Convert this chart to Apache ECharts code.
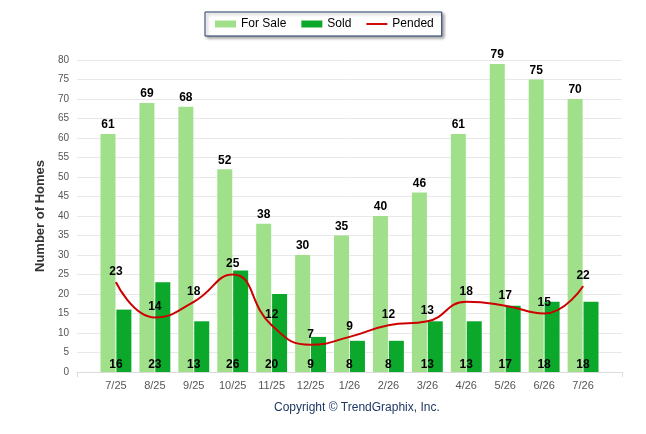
<!DOCTYPE html>
<html>
<head>
<meta charset="utf-8">
<style>
    html, body { margin: 0; padding: 0; background: #fff; }
    .chart { width: 646px; height: 434px; }
</style>
<script src="https://cdn.jsdelivr.net/npm/echarts@6/dist/echarts.min.js"></script>
</head>
<body>
<div class="chart"></div>
<script>
// 月份（两端各留一个空位，让柱子离开坐标轴两端）
var months = ['', '7/25', '8/25', '9/25', '10/25', '11/25', '12/25', '1/26', '2/26', '3/26', '4/26', '5/26', '6/26', '7/26', ''];
var forSale = [null, 61, 69, 68, 52, 38, 30, 35, 40, 46, 61, 79, 75, 70, null];
var sold = [null, 16, 23, 13, 26, 20, 9, 8, 8, 13, 13, 17, 18, 18, null];
var pended = [null, 23, 14, 18, 25, 12, 7, 9, 12, 13, 18, 17, 15, 22, null];
var yTicks = { min: 0, max: 80, step: 5 };

(function () {
    //1.实例化对象
    var myChart = echarts.init(document.querySelector('.chart'));
    var labelFont = { color: '#000', fontSize: 12, fontWeight: 'bold', fontFamily: 'Liberation Sans, Arial, sans-serif' };
    //2.指定配置项和数据
    var option = {
        animation: false,
        textStyle: { fontFamily: 'Liberation Sans, Arial, sans-serif' },
        color: ['#a1e08b', '#0ca82c', '#cc0000'],
        legend: {
            top: 12,
            left: 205,
            data: [
                { name: 'For Sale', icon: 'rect' },
                { name: 'Sold', icon: 'rect' },
                //图例里只画一条细线
                { name: 'Pended', icon: 'path://M0,0H22V2H0Z' }
            ],
            itemWidth: 21,
            itemHeight: 7,
            itemGap: 15,
            padding: [6, 8, 6, 10],
            borderColor: '#1f3864',
            borderWidth: 1,
            backgroundColor: '#fff',
            shadowColor: 'rgba(0,0,0,0.35)',
            shadowBlur: 3,
            shadowOffsetX: 2,
            shadowOffsetY: 2,
            textStyle: { color: '#000', fontSize: 12 }
        },
        grid: {
            left: 77,
            right: 24,
            top: 60,
            bottom: 62
        },
        graphic: [
            {
                type: 'text',
                left: 274,
                top: 402,
                style: {
                    text: 'Copyright \u00a9 TrendGraphix, Inc.',
                    fill: '#1f3864',
                    fontSize: 12,
                    fontFamily: 'Liberation Sans, Arial, sans-serif'
                }
            }
        ],
        xAxis: {
            type: 'category',
            data: months,
            boundaryGap: false,
            axisLine: { lineStyle: { color: '#dcdcdc' } },
            //只在两端显示刻度
            axisTick: {
                length: 5,
                lineStyle: { color: '#dcdcdc' },
                interval: function (i) { return i === 0 || i === months.length - 1; }
            },
            axisLabel: { color: '#555', fontSize: 11, margin: 8, interval: 0 }
        },
        yAxis: {
            type: 'value',
            min: yTicks.min,
            max: yTicks.max,
            interval: yTicks.step,
            name: 'Number of Homes',
            nameLocation: 'middle',
            nameGap: 30,
            nameTextStyle: { color: '#333', fontSize: 13, fontWeight: 'bold' },
            axisLine: { show: false },
            axisTick: { show: false },
            axisLabel: { color: '#555', fontSize: 10, margin: 8 },
            splitLine: { lineStyle: { color: '#e8e8e8' } }
        },
        series: [
            {
                name: 'For Sale',
                type: 'bar',
                barWidth: 15,
                barGap: '6%',
                data: forSale,
                label: Object.assign({ show: true, position: 'top', distance: 3 }, labelFont)
            },
            {
                name: 'Sold',
                type: 'bar',
                barWidth: 15,
                barGap: '6%',
                data: sold,
                //数字放在类目中间、柱子底部
                label: Object.assign({ show: true, position: 'insideBottom', distance: 1, offset: [-8, 0] }, labelFont)
            },
            {
                name: 'Pended',
                type: 'line',
                smooth: 0.5,
                symbol: 'circle',
                symbolSize: 1,
                showSymbol: true,
                itemStyle: { color: '#cc0000' },
                data: pended,
                lineStyle: { color: '#cc0000', width: 2 },
                label: Object.assign({ show: true, position: 'top', distance: 4 }, labelFont),
                labelLayout: { hideOverlap: false },
                z: 5
            }
        ]
    };
    //3.把配置项给实例对象
    myChart.setOption(option);
    //4.图表跟随屏幕自适应
    window.addEventListener('resize', function () {
        myChart.resize();
    });
})();
</script>
</body>
</html>
